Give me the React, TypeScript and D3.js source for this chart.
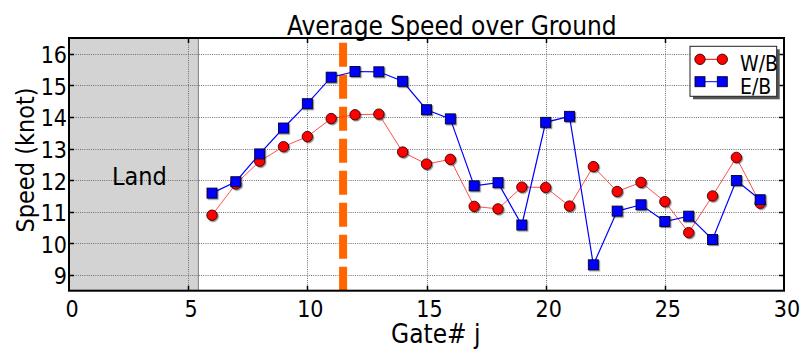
import React, { useEffect, useRef } from "react";
import * as d3 from "d3";

// Gate numbers and average speed over ground (knots) per direction
const gates = [6, 7, 8, 9, 10, 11, 12, 13, 14, 15, 16, 17, 18, 19, 20, 21, 22, 23, 24, 25, 26, 27, 28, 29];
const westbound = [10.89, 11.88, 12.6, 13.06, 13.38, 13.95, 14.07, 14.09, 12.89, 12.51, 12.66, 11.17, 11.09, 11.78, 11.77, 11.18, 12.43, 11.64, 11.93, 11.32, 10.34, 11.5, 12.72, 11.27];
const eastbound = [11.59, 11.95, 12.83, 13.65, 14.42, 15.26, 15.44, 15.43, 15.13, 14.23, 13.94, 11.82, 11.92, 10.58, 13.83, 14.02, 9.32, 11.02, 11.22, 10.69, 10.86, 10.12, 11.99, 11.38];

const xTicks = [0, 5, 10, 15, 20, 25, 30];
const yTicks = [9, 10, 11, 12, 13, 14, 15, 16];
const xDomain = [0, 30];
const yDomain = [8.5, 16.5];
const landEdge = 5.43;
const markerGate = 11.5;

const W = 808;
const H = 354;
const FONT = "'DejaVu Sans Condensed', 'DejaVu Sans', sans-serif";

export default function App() {
  const ref = useRef<SVGSVGElement | null>(null);

  useEffect(() => {
    const svg = d3.select(ref.current);
    svg.selectAll("*").remove();

    const left = 69, right = 784, top = 38, bottom = 290.7;
    const x = d3.scaleLinear().domain(xDomain).range([left, right]);
    const y = d3.scaleLinear().domain(yDomain).range([bottom, top]);

    const defs = svg.append("defs");
    const f = defs.append("filter").attr("id", "mshadow").attr("x", "-50%").attr("y", "-50%").attr("width", "200%").attr("height", "200%");
    f.append("feDropShadow").attr("dx", 1.2).attr("dy", 1.2).attr("stdDeviation", 0.6).attr("flood-color", "#000").attr("flood-opacity", 0.45);
    defs.append("clipPath").attr("id", "plotclip").append("rect")
      .attr("x", left).attr("y", top).attr("width", right - left).attr("height", bottom - top);

    svg.append("rect").attr("x", 0).attr("y", 0).attr("width", W).attr("height", H).attr("fill", "#fff");

    // land shading
    svg.append("rect")
      .attr("x", x(0)).attr("y", top)
      .attr("width", x(landEdge) - x(0)).attr("height", bottom - top)
      .attr("fill", "#d3d3d3");
    svg.append("line")
      .attr("x1", x(landEdge)).attr("x2", x(landEdge)).attr("y1", top).attr("y2", bottom)
      .attr("stroke", "#8c8c8c").attr("stroke-width", 1.2);

    // grid
    const grid = svg.append("g").attr("stroke", "#6e6e6e").attr("stroke-width", 1).attr("stroke-dasharray", "1,1.2");
    yTicks.forEach((t) => {
      grid.append("line").attr("x1", left).attr("x2", right).attr("y1", Math.round(y(t)) + 0.5).attr("y2", Math.round(y(t)) + 0.5);
    });
    xTicks.slice(1, -1).forEach((t) => {
      grid.append("line").attr("x1", Math.round(x(t)) + 0.5).attr("x2", Math.round(x(t)) + 0.5).attr("y1", top).attr("y2", bottom);
    });

    // land label
    svg.append("text").attr("x", x(2.95)).attr("y", 185).attr("text-anchor", "middle")
      .attr("font-family", FONT).attr("font-size", 25).attr("fill", "#000").text("Land");

    // orange reference line
    svg.append("line")
      .attr("x1", x(markerGate)).attr("x2", x(markerGate)).attr("y1", 42.7).attr("y2", bottom)
      .attr("stroke", "#ff6600").attr("stroke-width", 8).attr("stroke-dasharray", "24,8");

    const plot = svg.append("g").attr("clip-path", "url(#plotclip)");

    const lineW = d3.line<number>().x((_, i) => x(gates[i])).y((d) => y(d));

    plot.append("path").attr("d", lineW(westbound)).attr("fill", "none")
      .attr("stroke", "#ff3030").attr("stroke-width", 1).attr("stroke-opacity", 0.85);
    plot.append("path").attr("d", lineW(eastbound)).attr("fill", "none")
      .attr("stroke", "#0000ff").attr("stroke-width", 1.2);

    const mk = plot.append("g").attr("filter", "url(#mshadow)");
    westbound.forEach((v, i) => {
      mk.append("circle").attr("cx", x(gates[i])).attr("cy", y(v)).attr("r", 5.2)
        .attr("fill", "#ff0000").attr("stroke", "#3a0000").attr("stroke-width", 0.9);
    });
    const s = 10;
    eastbound.forEach((v, i) => {
      mk.append("rect").attr("x", x(gates[i]) - s / 2).attr("y", y(v) - s / 2)
        .attr("width", s).attr("height", s)
        .attr("fill", "#0000ff").attr("stroke", "#00002a").attr("stroke-width", 0.9);
    });

    // frame and inward ticks
    const ax = svg.append("g").attr("stroke", "#000").attr("stroke-width", 1.5);
    xTicks.slice(1, -1).forEach((t) => {
      const xx = Math.round(x(t)) + 0.5;
      ax.append("line").attr("x1", xx).attr("x2", xx).attr("y1", top).attr("y2", top + 5);
      ax.append("line").attr("x1", xx).attr("x2", xx).attr("y1", bottom).attr("y2", bottom - 5);
    });
    yTicks.forEach((t) => {
      const yy = Math.round(y(t)) + 0.5;
      ax.append("line").attr("x1", left).attr("x2", left + 5).attr("y1", yy).attr("y2", yy);
      ax.append("line").attr("x1", right).attr("x2", right - 5).attr("y1", yy).attr("y2", yy);
    });
    svg.append("rect").attr("x", left).attr("y", top).attr("width", right - left).attr("height", bottom - top)
      .attr("fill", "none").attr("stroke", "#000").attr("stroke-width", 2);

    // tick labels
    const tl = svg.append("g").attr("font-family", FONT).attr("font-size", 23).attr("fill", "#000");
    xTicks.forEach((t) => {
      tl.append("text").attr("x", x(t) + 3).attr("y", 316.7).attr("text-anchor", "middle").text(String(t));
    });
    yTicks.forEach((t) => {
      tl.append("text").attr("x", 67).attr("y", y(t) + 3).attr("text-anchor", "end")
        .attr("dominant-baseline", "middle").text(String(t));
    });

    // titles
    svg.append("text").attr("x", 287).attr("y", 35).attr("font-family", FONT).attr("font-size", 26)
      .attr("fill", "#000").text("Average Speed over Ground");
    svg.append("text").attr("x", 391).attr("y", 343).attr("font-family", FONT).attr("font-size", 26)
      .attr("fill", "#000").text("Gate# j");
    svg.append("text").attr("transform", "translate(34,160) rotate(-90)").attr("text-anchor", "middle")
      .attr("font-family", FONT).attr("font-size", 25).attr("fill", "#000").text("Speed (knot)");

    // legend
    const lg = svg.append("g");
    const lx = 690, ly = 46.3, lw = 86.7, lh = 50;
    lg.append("rect").attr("x", lx + 3).attr("y", ly + 3).attr("width", lw).attr("height", lh).attr("fill", "#555");
    lg.append("rect").attr("x", lx).attr("y", ly).attr("width", lw).attr("height", lh)
      .attr("fill", "#fff").attr("stroke", "#222").attr("stroke-width", 1);
    const rows = [
      { label: "W/B", yy: 59.3, color: "#ff0000", kind: "circle" },
      { label: "E/B", yy: 81.7, color: "#0000ff", kind: "square" },
    ];
    rows.forEach((r) => {
      lg.append("line").attr("x1", 700).attr("x2", 722.3).attr("y1", r.yy).attr("y2", r.yy)
        .attr("stroke", r.color).attr("stroke-width", 1);
      [700, 722.3].forEach((cx) => {
        if (r.kind === "circle") {
          lg.append("circle").attr("cx", cx).attr("cy", r.yy).attr("r", 5.2)
            .attr("fill", r.color).attr("stroke", "#3a0000").attr("stroke-width", 0.9);
        } else {
          lg.append("rect").attr("x", cx - 5).attr("y", r.yy - 5).attr("width", 10).attr("height", 10)
            .attr("fill", r.color).attr("stroke", "#00002a").attr("stroke-width", 0.9);
        }
      });
      lg.append("text").attr("x", 740).attr("y", r.yy + 12).attr("font-family", FONT).attr("font-size", 21)
        .attr("fill", "#000").text(r.label);
    });
  }, []);

  return (
    <svg
      ref={ref}
      width={W}
      height={H}
      style={{ position: "absolute", left: 0, top: 0, display: "block" }}
    />
  );
}
